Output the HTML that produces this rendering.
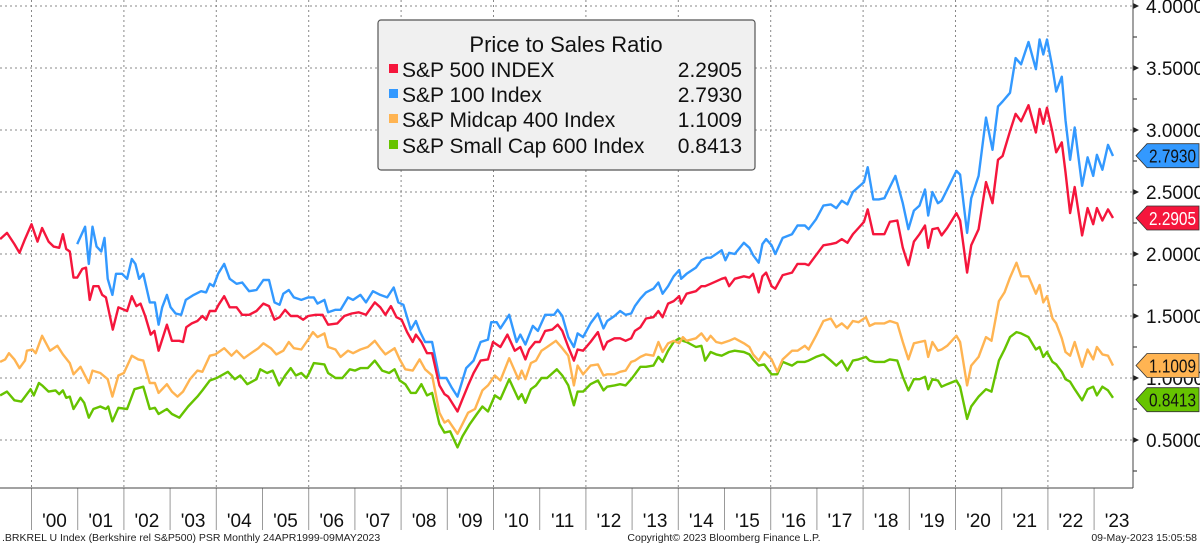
<!DOCTYPE html>
<html><head><meta charset="utf-8"><style>
html,body{margin:0;padding:0;background:#fff;}
svg{display:block;font-family:"Liberation Sans",sans-serif;}
</style></head><body>
<svg id="chart" width="1200" height="546" viewBox="0 0 1200 546" xmlns="http://www.w3.org/2000/svg">
<g id="grid"></g>
<g id="series"></g>
<g id="axes"></g>
<g id="legend">
 <rect x="378" y="20" width="377" height="150" rx="3" fill="#f0f0f0" stroke="#555" stroke-width="1.2"/>
 <text x="566" y="52" font-size="22" text-anchor="middle" fill="#111">Price to Sales Ratio</text>
 <g><rect x="389" y="64" width="9" height="9" fill="#f5163c"/><text x="402" y="77" font-size="21" fill="#111">S&amp;P 500 INDEX</text><text x="742" y="77" font-size="21" text-anchor="end" fill="#111">2.2905</text></g>
 <g><rect x="389" y="89" width="9" height="9" fill="#3399ff"/><text x="402" y="102" font-size="21" fill="#111">S&amp;P 100 Index</text><text x="742" y="102" font-size="21" text-anchor="end" fill="#111">2.7930</text></g>
 <g><rect x="389" y="114" width="9" height="9" fill="#ffb452"/><text x="402" y="127" font-size="21" fill="#111">S&amp;P Midcap 400 Index</text><text x="742" y="127" font-size="21" text-anchor="end" fill="#111">1.1009</text></g>
 <g><rect x="389" y="140" width="9" height="9" fill="#66c300"/><text x="402" y="153" font-size="21" fill="#111">S&amp;P Small Cap 600 Index</text><text x="742" y="153" font-size="21" text-anchor="end" fill="#111">0.8413</text></g>
</g>
<g id="tags"></g>
<text x="2" y="541" font-size="10.5" fill="#222">.BRKREL U Index (Berkshire rel S&amp;P500) PSR  Monthly 24APR1999-09MAY2023</text>
<text x="724" y="541" font-size="10.5" fill="#222" text-anchor="middle">Copyright© 2023 Bloomberg Finance L.P.</text>
<text x="1197" y="541" font-size="10.5" fill="#222" text-anchor="end">09-May-2023 15:05:58</text>
</svg>
<script>
const sp500Dates=[1999.32,1999.47,1999.63,1999.74,1999.86,2000.00,2000.13,2000.23,2000.37,2000.48,2000.60,2000.68,2000.75,2000.83,2000.91,2000.99,2001.10,2001.18,2001.26,2001.34,2001.45,2001.53,2001.61,2001.76,2001.88,2002.07,2002.17,2002.27,2002.36,2002.46,2002.58,2002.66,2002.75,2002.93,2003.04,2003.20,2003.28,2003.35,2003.47,2003.59,2003.70,2003.78,2003.86,2003.98,2004.05,2004.17,2004.29,2004.44,2004.56,2004.71,2004.87,2005.02,2005.14,2005.26,2005.37,2005.49,2005.61,2005.76,2005.88,2005.99,2006.15,2006.30,2006.42,2006.62,2006.77,2006.93,2007.08,2007.24,2007.43,2007.55,2007.66,2007.78,2007.90,2008.01,2008.13,2008.25,2008.32,2008.44,2008.56,2008.67,2008.83,2008.94,2009.02,2009.22,2009.33,2009.45,2009.57,2009.72,2009.88,2009.99,2010.15,2010.30,2010.46,2010.58,2010.69,2010.77,2010.90,2011.00,2011.12,2011.27,2011.39,2011.49,2011.62,2011.74,2011.82,2011.94,2012.10,2012.26,2012.38,2012.46,2012.62,2012.74,2012.86,2012.98,2013.06,2013.18,2013.30,2013.46,2013.57,2013.66,2013.78,2013.90,2014.02,2014.06,2014.18,2014.38,2014.50,2014.58,2014.70,2014.82,2014.94,2015.02,2015.10,2015.22,2015.42,2015.54,2015.62,2015.74,2015.82,2015.90,2016.02,2016.10,2016.26,2016.46,2016.58,2016.74,2016.82,2016.98,2017.14,2017.30,2017.42,2017.54,2017.66,2017.78,2017.90,2018.02,2018.10,2018.22,2018.34,2018.46,2018.58,2018.74,2018.86,2018.98,2019.10,2019.22,2019.34,2019.41,2019.50,2019.62,2019.70,2019.82,2020.02,2020.10,2020.25,2020.34,2020.50,2020.66,2020.80,2020.92,2021.02,2021.18,2021.30,2021.42,2021.58,2021.74,2021.82,2021.90,2021.98,2022.10,2022.18,2022.30,2022.38,2022.48,2022.58,2022.74,2022.86,2022.98,2023.06,2023.18,2023.30,2023.41];
const sp500Values=[2.12,2.17,2.08,2.01,2.12,2.24,2.10,2.21,2.10,2.06,2.05,2.16,2.04,2.02,1.81,1.81,1.88,1.89,1.63,1.74,1.74,1.67,1.65,1.39,1.57,1.54,1.66,1.58,1.60,1.50,1.35,1.38,1.22,1.43,1.30,1.30,1.29,1.41,1.44,1.46,1.50,1.47,1.54,1.54,1.59,1.66,1.57,1.57,1.51,1.51,1.54,1.60,1.58,1.47,1.49,1.55,1.50,1.50,1.47,1.50,1.51,1.51,1.43,1.44,1.50,1.52,1.53,1.51,1.61,1.57,1.51,1.58,1.49,1.47,1.37,1.29,1.35,1.29,1.20,1.20,0.94,0.87,0.85,0.73,0.83,0.94,1.04,1.14,1.15,1.29,1.25,1.35,1.22,1.25,1.15,1.23,1.29,1.29,1.38,1.39,1.43,1.38,1.25,1.14,1.23,1.22,1.29,1.37,1.23,1.29,1.32,1.32,1.30,1.32,1.38,1.41,1.48,1.49,1.54,1.49,1.60,1.62,1.66,1.60,1.68,1.70,1.74,1.74,1.76,1.78,1.80,1.81,1.74,1.80,1.82,1.81,1.84,1.69,1.82,1.85,1.74,1.72,1.83,1.85,1.92,1.92,1.91,1.99,2.07,2.08,2.09,2.12,2.09,2.16,2.21,2.26,2.36,2.16,2.16,2.16,2.26,2.27,2.05,1.91,2.10,2.16,2.23,2.05,2.20,2.21,2.15,2.21,2.33,2.27,1.85,2.07,2.20,2.58,2.41,2.76,2.79,2.99,3.13,3.07,3.20,2.98,3.17,3.05,3.18,2.98,2.82,2.90,2.66,2.33,2.54,2.15,2.37,2.24,2.37,2.27,2.36,2.29];
const sp100Dates=[2000.99,2001.10,2001.16,2001.24,2001.32,2001.41,2001.51,2001.58,2001.65,2001.75,2001.83,2001.96,2002.07,2002.17,2002.25,2002.33,2002.42,2002.56,2002.67,2002.75,2002.83,2002.93,2003.01,2003.12,2003.24,2003.34,2003.51,2003.67,2003.78,2003.86,2003.94,2004.04,2004.17,2004.29,2004.44,2004.56,2004.71,2004.87,2005.02,2005.14,2005.26,2005.37,2005.45,2005.57,2005.68,2005.84,2005.99,2006.11,2006.19,2006.34,2006.42,2006.58,2006.69,2006.85,2006.96,2007.12,2007.24,2007.39,2007.55,2007.70,2007.84,2007.94,2008.05,2008.21,2008.32,2008.40,2008.52,2008.67,2008.83,2008.98,2009.10,2009.22,2009.41,2009.57,2009.72,2009.88,2009.95,2010.07,2010.15,2010.34,2010.50,2010.58,2010.69,2010.85,2010.96,2011.12,2011.31,2011.39,2011.49,2011.62,2011.74,2011.82,2011.94,2012.10,2012.26,2012.38,2012.46,2012.62,2012.74,2012.86,2012.98,2013.06,2013.18,2013.30,2013.46,2013.57,2013.66,2013.78,2013.90,2014.02,2014.06,2014.18,2014.38,2014.50,2014.62,2014.70,2014.82,2014.94,2015.02,2015.10,2015.22,2015.42,2015.54,2015.62,2015.74,2015.82,2015.90,2016.02,2016.10,2016.26,2016.46,2016.58,2016.74,2016.82,2016.98,2017.14,2017.30,2017.42,2017.54,2017.66,2017.78,2017.90,2018.02,2018.10,2018.22,2018.34,2018.46,2018.58,2018.70,2018.86,2018.98,2019.10,2019.22,2019.34,2019.41,2019.50,2019.62,2019.70,2019.82,2020.02,2020.10,2020.25,2020.34,2020.50,2020.66,2020.80,2020.92,2021.02,2021.18,2021.30,2021.42,2021.58,2021.74,2021.82,2021.90,2021.98,2022.10,2022.18,2022.30,2022.38,2022.48,2022.58,2022.74,2022.86,2022.98,2023.06,2023.18,2023.30,2023.41];
const sp100Values=[2.08,2.17,2.22,1.92,2.22,2.06,2.02,2.13,1.80,1.67,1.84,1.84,1.80,1.96,1.92,1.80,1.84,1.61,1.61,1.43,1.57,1.67,1.57,1.52,1.51,1.63,1.67,1.70,1.69,1.76,1.74,1.84,1.92,1.80,1.76,1.77,1.70,1.71,1.79,1.79,1.61,1.59,1.68,1.71,1.65,1.63,1.65,1.65,1.60,1.63,1.53,1.55,1.55,1.65,1.63,1.67,1.61,1.70,1.67,1.65,1.73,1.61,1.59,1.39,1.46,1.38,1.29,1.29,1.00,1.00,0.92,0.85,1.08,1.14,1.29,1.31,1.45,1.45,1.40,1.51,1.29,1.35,1.27,1.42,1.38,1.51,1.51,1.55,1.50,1.33,1.25,1.36,1.33,1.44,1.52,1.40,1.46,1.50,1.54,1.51,1.52,1.58,1.64,1.69,1.72,1.77,1.68,1.74,1.82,1.87,1.80,1.84,1.89,1.95,1.97,1.97,2.00,2.03,1.95,2.01,2.00,2.09,2.05,1.99,1.93,2.08,2.12,2.07,2.00,2.13,2.16,2.23,2.23,2.20,2.28,2.39,2.40,2.37,2.43,2.40,2.50,2.54,2.58,2.70,2.44,2.44,2.45,2.54,2.63,2.41,2.20,2.35,2.39,2.52,2.31,2.50,2.41,2.43,2.52,2.67,2.64,2.17,2.45,2.63,3.10,2.84,3.19,3.23,3.30,3.58,3.53,3.71,3.49,3.73,3.61,3.73,3.50,3.31,3.43,3.08,2.76,3.02,2.55,2.78,2.63,2.80,2.68,2.88,2.79];
const mid400Dates=[1999.32,1999.43,1999.51,1999.63,1999.74,1999.86,1999.90,2000.02,2000.09,2000.23,2000.40,2000.56,2000.68,2000.83,2000.91,2001.06,2001.24,2001.32,2001.49,2001.65,2001.75,2001.88,2002.00,2002.17,2002.31,2002.42,2002.56,2002.67,2002.75,2002.93,2003.04,2003.16,2003.28,2003.43,2003.59,2003.70,2003.86,2003.98,2004.17,2004.33,2004.44,2004.60,2004.75,2004.91,2005.02,2005.18,2005.30,2005.45,2005.57,2005.68,2005.84,2005.99,2006.09,2006.19,2006.34,2006.42,2006.58,2006.69,2006.85,2006.96,2007.12,2007.28,2007.43,2007.55,2007.66,2007.86,2007.97,2008.09,2008.25,2008.40,2008.52,2008.67,2008.83,2008.94,2009.02,2009.22,2009.33,2009.45,2009.60,2009.76,2009.88,2010.03,2010.15,2010.34,2010.54,2010.61,2010.69,2010.81,2010.92,2011.04,2011.16,2011.35,2011.49,2011.62,2011.74,2011.82,2011.94,2012.10,2012.26,2012.38,2012.46,2012.62,2012.74,2012.86,2012.98,2013.06,2013.18,2013.30,2013.46,2013.57,2013.66,2013.78,2013.90,2014.02,2014.10,2014.18,2014.38,2014.50,2014.62,2014.70,2014.82,2014.94,2015.10,2015.22,2015.42,2015.54,2015.62,2015.74,2015.86,2016.02,2016.14,2016.26,2016.46,2016.58,2016.74,2016.82,2016.98,2017.14,2017.30,2017.42,2017.54,2017.66,2017.78,2017.90,2018.06,2018.14,2018.26,2018.46,2018.58,2018.74,2018.86,2018.98,2019.10,2019.22,2019.34,2019.41,2019.50,2019.62,2019.70,2019.82,2020.02,2020.10,2020.25,2020.34,2020.50,2020.66,2020.78,2020.94,2021.06,2021.18,2021.32,2021.42,2021.58,2021.74,2021.82,2021.90,2021.98,2022.10,2022.18,2022.30,2022.38,2022.48,2022.58,2022.74,2022.86,2022.98,2023.06,2023.18,2023.30,2023.41];
const mid400Values=[1.13,1.15,1.20,1.15,1.08,1.14,1.22,1.23,1.20,1.34,1.22,1.26,1.19,1.12,1.03,1.09,0.96,1.06,1.04,0.99,0.85,1.02,1.04,1.18,1.15,1.14,0.96,0.96,0.88,0.95,0.89,0.85,0.89,0.99,1.06,1.05,1.18,1.19,1.24,1.18,1.22,1.16,1.20,1.24,1.28,1.24,1.19,1.22,1.29,1.24,1.23,1.31,1.37,1.33,1.36,1.25,1.23,1.17,1.22,1.20,1.23,1.25,1.30,1.24,1.19,1.24,1.15,1.07,1.06,1.15,1.07,1.02,0.72,0.64,0.66,0.55,0.63,0.72,0.75,0.90,0.94,1.02,0.98,1.16,0.99,1.06,0.99,1.12,1.14,1.22,1.25,1.30,1.24,1.18,0.94,1.10,1.03,1.10,1.11,1.02,1.03,1.03,1.05,1.06,1.13,1.14,1.17,1.19,1.18,1.29,1.21,1.28,1.30,1.28,1.33,1.30,1.32,1.36,1.30,1.34,1.29,1.28,1.30,1.32,1.28,1.25,1.19,1.14,1.21,1.15,1.05,1.15,1.22,1.22,1.26,1.23,1.34,1.46,1.48,1.41,1.44,1.40,1.46,1.45,1.49,1.42,1.44,1.44,1.46,1.44,1.29,1.15,1.28,1.29,1.30,1.17,1.29,1.22,1.23,1.26,1.34,1.29,0.94,1.10,1.17,1.33,1.30,1.62,1.69,1.81,1.93,1.82,1.82,1.68,1.75,1.61,1.66,1.48,1.44,1.32,1.21,1.18,1.29,1.09,1.23,1.15,1.25,1.19,1.18,1.10];
const small600Dates=[1999.32,1999.47,1999.63,1999.78,1999.98,2000.05,2000.16,2000.23,2000.37,2000.52,2000.60,2000.68,2000.75,2000.83,2000.91,2001.06,2001.14,2001.24,2001.34,2001.49,2001.61,2001.66,2001.75,2001.88,2002.07,2002.23,2002.42,2002.56,2002.67,2002.75,2002.93,2003.04,2003.20,2003.39,2003.59,2003.70,2003.86,2004.01,2004.25,2004.40,2004.52,2004.67,2004.87,2004.95,2005.10,2005.22,2005.36,2005.49,2005.61,2005.72,2005.84,2005.95,2006.01,2006.11,2006.34,2006.42,2006.58,2006.73,2006.89,2007.00,2007.12,2007.28,2007.43,2007.59,2007.74,2007.86,2007.97,2008.09,2008.21,2008.32,2008.44,2008.56,2008.67,2008.83,2008.94,2009.06,2009.22,2009.33,2009.49,2009.64,2009.76,2009.88,2010.03,2010.15,2010.34,2010.54,2010.61,2010.69,2010.81,2010.92,2011.04,2011.16,2011.37,2011.49,2011.62,2011.74,2011.82,2011.94,2012.10,2012.26,2012.38,2012.46,2012.62,2012.74,2012.86,2012.98,2013.06,2013.18,2013.30,2013.46,2013.57,2013.66,2013.78,2013.90,2014.02,2014.10,2014.18,2014.38,2014.50,2014.58,2014.70,2014.82,2014.94,2015.10,2015.22,2015.42,2015.54,2015.62,2015.74,2015.86,2016.02,2016.14,2016.26,2016.46,2016.58,2016.74,2016.82,2016.98,2017.14,2017.30,2017.42,2017.54,2017.66,2017.78,2017.90,2018.06,2018.14,2018.26,2018.46,2018.58,2018.74,2018.86,2018.98,2019.10,2019.22,2019.34,2019.41,2019.50,2019.62,2019.70,2019.82,2020.02,2020.10,2020.25,2020.34,2020.50,2020.66,2020.78,2020.94,2021.06,2021.18,2021.32,2021.42,2021.58,2021.74,2021.82,2021.90,2021.98,2022.10,2022.18,2022.30,2022.38,2022.48,2022.58,2022.74,2022.86,2022.98,2023.06,2023.18,2023.30,2023.41];
const small600Values=[0.86,0.89,0.82,0.81,0.91,0.86,0.96,0.94,0.89,0.90,0.87,0.90,0.84,0.85,0.75,0.84,0.80,0.68,0.75,0.77,0.75,0.77,0.65,0.76,0.75,0.91,0.93,0.75,0.76,0.71,0.75,0.71,0.68,0.77,0.85,0.90,0.98,1.00,1.05,0.99,1.02,0.95,0.99,1.07,1.04,1.06,0.94,1.02,1.08,1.02,1.04,1.00,1.04,1.12,1.11,1.04,1.00,1.00,1.07,1.06,1.08,1.08,1.14,1.06,1.04,1.07,0.98,0.95,0.88,0.88,0.95,0.86,0.88,0.63,0.56,0.57,0.44,0.53,0.63,0.71,0.77,0.73,0.86,0.83,0.99,0.83,0.87,0.80,0.91,0.94,1.00,1.00,1.07,1.02,0.94,0.78,0.89,0.89,0.95,0.98,0.90,0.93,0.94,0.95,0.94,0.99,1.03,1.09,1.09,1.10,1.17,1.13,1.22,1.29,1.32,1.30,1.29,1.25,1.26,1.14,1.21,1.19,1.18,1.21,1.22,1.21,1.19,1.15,1.10,1.11,1.03,1.03,1.13,1.10,1.13,1.13,1.14,1.17,1.19,1.14,1.10,1.14,1.06,1.14,1.15,1.17,1.14,1.13,1.13,1.15,1.14,1.01,0.90,0.99,0.99,1.01,0.91,0.99,0.98,0.93,0.95,0.98,0.93,0.67,0.77,0.85,0.91,0.89,1.14,1.23,1.33,1.37,1.36,1.33,1.23,1.25,1.17,1.21,1.13,1.11,1.05,0.99,0.97,0.91,0.82,0.91,0.93,0.86,0.93,0.90,0.84];
const yTicks=[0.5,1.0,1.5,2.0,2.5,3.0,3.5,4.0];
const yearLabels=["'00","'01","'02","'03","'04","'05","'06","'07","'08","'09","'10","'11","'12","'13","'14","'15","'16","'17","'18","'19","'20","'21","'22","'23"];
const lastValues=[2.7930,2.2905,1.1009,0.8413];
const lastLabels=["2.7930","2.2905","1.1009","0.8413"];

const NS="http://www.w3.org/2000/svg";
const PL=0,PR=1133,PT=0,PB=488;
function xScale(yr){return 31.5+(yr-2000)*46.2;}
function yScale(v){return 254-(v-2)*124;}
function mk(tag,attrs,parent){const e=document.createElementNS(NS,tag);for(const k in attrs)e.setAttribute(k,attrs[k]);parent.appendChild(e);return e;}
const grid=document.getElementById('grid'),axes=document.getElementById('axes'),ser=document.getElementById('series'),tags=document.getElementById('tags');
yTicks.forEach(v=>{
  const y=yScale(v);
  const g=mk('line',{x1:PL,x2:PR,y1:y,y2:y,stroke:'#888','stroke-width':1,'stroke-dasharray':'2,3'},grid);
  
  
  const t=mk('text',{x:1146,y:y+7,'font-size':19,fill:'#111'},axes);
  t.textContent=v.toFixed(4);
  
  
  const a=mk('polygon',{points:`${PR},${y-3} ${PR+6},${y} ${PR},${y+3}`,fill:'#222'},axes);
  
  
});
for(let v=0.25;v<4;v+=0.5){const y=yScale(v);const m=mk('line',{x1:PR,x2:PR+4,y1:y,y2:y,stroke:'#222'},axes);

}
for(let yr=2000;yr<=2022;yr+=2){const x=xScale(yr);const g=mk('line',{x1:x,x2:x,y1:PT,y2:PB,stroke:'#888','stroke-width':1,'stroke-dasharray':'2,3'},grid);

}
yearLabels.forEach((lab,i)=>{
  const x=xScale(2000+i);
  const s=mk('line',{x1:x,x2:x,y1:PB,y2:530,stroke:'#999','stroke-width':1},axes);
  
  
  const t=mk('text',{x:x+23,y:527,'font-size':19,fill:'#111','text-anchor':'middle'},axes);
  t.textContent=lab;
  
  
});
const ax1=mk('line',{x1:0,x2:PR,y1:PB,y2:PB,stroke:'#444','stroke-width':1},axes);


const ax2=mk('line',{x1:PR,x2:PR,y1:0,y2:PB,stroke:'#444','stroke-width':1},axes);


function drawLine(dates,vals,color,name){
  let d='';for(let i=0;i<vals.length;i++){d+=(i?'L':'M')+xScale(dates[i]).toFixed(1)+','+yScale(vals[i]).toFixed(1);}
  const p=mk('path',{d:d,fill:'none',stroke:color,'stroke-width':2.4,'stroke-linejoin':'round'},ser);
  
  
}
drawLine(small600Dates,small600Values,'#66c300','line-smallcap600');
drawLine(mid400Dates,mid400Values,'#ffb452','line-midcap400');
drawLine(sp100Dates,sp100Values,'#3399ff','line-sp100');
drawLine(sp500Dates,sp500Values,'#f5163c','line-sp500');
const tagFill=['#3399ff','#f5163c','#ffb452','#66c300'];
const tagText=['#111','#fff','#111','#111'];
const tagNames=['tag-sp100','tag-sp500','tag-midcap400','tag-smallcap600'];
lastValues.forEach((v,i)=>{
  let y=yScale(v);
  if(i===3)y+=2;
  const p=mk('polygon',{points:`1136,${y} 1147,${y-12} 1199,${y-12} 1199,${y+12} 1147,${y+12}`,fill:tagFill[i],stroke:'#333','stroke-width':0.8},tags);
  
  
  const t=mk('text',{x:1149,y:y+7,'font-size':18,fill:tagText[i],textLength:47,lengthAdjust:'spacingAndGlyphs'},tags);
  t.textContent=lastLabels[i];
  
  
});
</script>
</body></html>
